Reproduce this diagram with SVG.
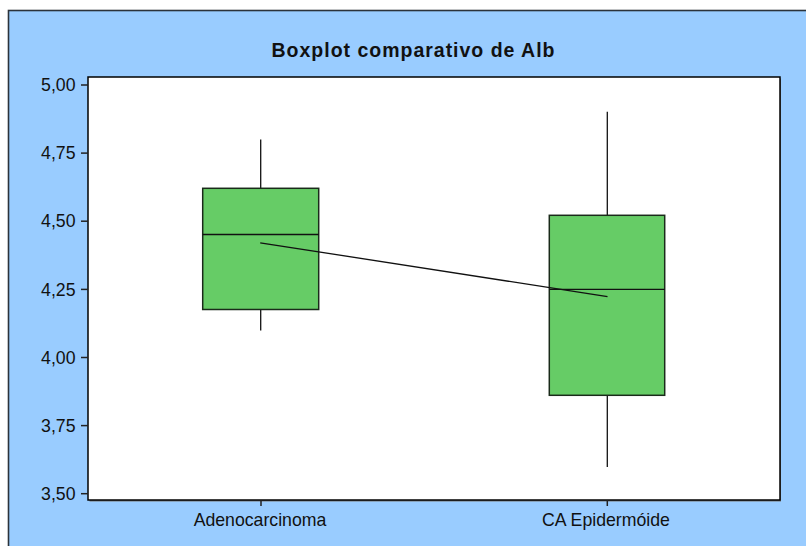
<svg xmlns="http://www.w3.org/2000/svg" width="806" height="546" viewBox="0 0 806 546">
<style>
.lbl{font-family:"Liberation Sans",Arial,sans-serif;font-size:17.7px;fill:#111}
.ylbl{text-anchor:end}
.xlbl{text-anchor:middle}
.title{font-family:"Liberation Sans",Arial,sans-serif;font-size:19.5px;font-weight:bold;fill:#111;text-anchor:middle}
.tick{stroke:#222;stroke-width:1.5}
.box{fill:#66CC66;stroke:#1a2a1a;stroke-width:1.5}
.ln{stroke:#111;stroke-width:1.3;fill:none}
</style>
<rect x="0" y="0" width="806" height="546" fill="#ffffff"/>
<rect x="8.5" y="10.5" width="810" height="550" fill="#99CCFF" stroke="#2b333b" stroke-width="1.6"/>
<text class="title" x="413" y="57" textLength="283" lengthAdjust="spacing">Boxplot comparativo de Alb</text>
<g id="plot-area">
<rect x="89.5" y="78.5" width="691.5" height="423" fill="#777"/>
<rect x="88" y="77" width="692" height="423" fill="#ffffff" stroke="#000" stroke-width="1.5"/>
</g>
<g id="y-axis">
<line class="tick" x1="81" y1="85" x2="88" y2="85"/>
<line class="tick" x1="81" y1="153.1" x2="88" y2="153.1"/>
<line class="tick" x1="81" y1="221.2" x2="88" y2="221.2"/>
<line class="tick" x1="81" y1="289.4" x2="88" y2="289.4"/>
<line class="tick" x1="81" y1="357.5" x2="88" y2="357.5"/>
<line class="tick" x1="81" y1="425.6" x2="88" y2="425.6"/>
<line class="tick" x1="81" y1="493.7" x2="88" y2="493.7"/>
<text class="lbl ylbl" x="75.5" y="91.2">5,00</text>
<text class="lbl ylbl" x="75.5" y="159.3">4,75</text>
<text class="lbl ylbl" x="75.5" y="227.4">4,50</text>
<text class="lbl ylbl" x="75.5" y="295.6">4,25</text>
<text class="lbl ylbl" x="75.5" y="363.7">4,00</text>
<text class="lbl ylbl" x="75.5" y="431.8">3,75</text>
<text class="lbl ylbl" x="75.5" y="499.9">3,50</text>
</g>
<g id="x-axis">
<line class="tick" x1="261" y1="500" x2="261" y2="506"/>
<line class="tick" x1="607.3" y1="500" x2="607.3" y2="506"/>
<text class="lbl xlbl" x="260" y="525.7">Adenocarcinoma</text>
<text class="lbl xlbl" x="606" y="525.7">CA Epidermóide</text>
</g>
<g id="box-adenocarcinoma">
<line class="ln" x1="260.7" y1="139.5" x2="260.7" y2="188.5"/>
<line class="ln" x1="260.7" y1="309.5" x2="260.7" y2="330.5"/>
<rect class="box" x="202.7" y="188.3" width="116" height="121.2"/>
<line class="ln" x1="202.7" y1="234.5" x2="318.7" y2="234.5"/>
</g>
<g id="box-ca-epidermoide">
<line class="ln" x1="607.3" y1="111.7" x2="607.3" y2="215.3"/>
<line class="ln" x1="607.3" y1="395.3" x2="607.3" y2="467"/>
<rect class="box" x="549.3" y="215.3" width="115.4" height="180"/>
<line class="ln" x1="549.3" y1="289.4" x2="664.7" y2="289.4"/>
</g>
<g id="connectors">
<line class="ln" x1="260.2" y1="242.8" x2="607.5" y2="296.6"/>
</g>
</svg>
